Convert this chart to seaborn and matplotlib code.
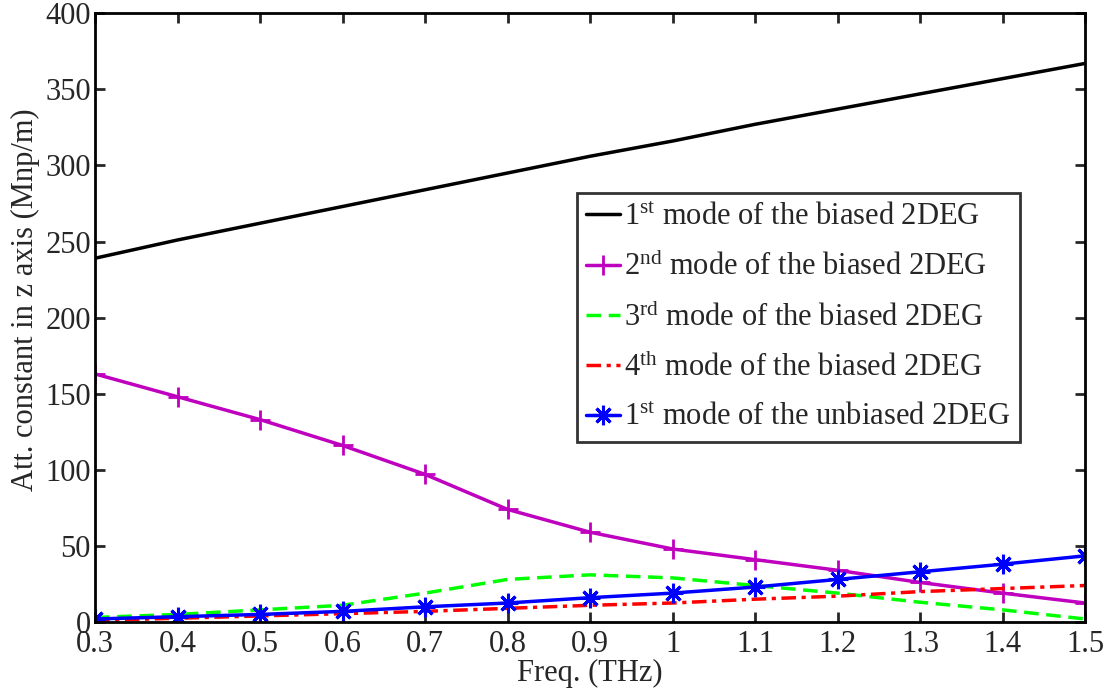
import numpy as np
import pandas as pd
import seaborn as sns
import matplotlib
matplotlib.use("Agg")
import matplotlib.pyplot as plt

freq = [0.3, 0.4, 0.5, 0.6, 0.7, 0.8, 0.9, 1.0, 1.1, 1.2, 1.3, 1.4, 1.5]
mode1_biased = [239, 251, 262, 273, 284, 295, 306, 316, 327, 337, 347, 357, 367]
mode2_biased = [163, 148, 133, 116, 97, 74, 59, 48, 41, 34, 26, 19, 12.5]
mode3_biased = [3, 5, 8, 11, 19, 28, 31, 29, 24, 19, 13, 8, 2]
mode4_biased = [1, 2.5, 4, 5.5, 7, 9, 11, 12.5, 15, 17, 20, 22, 24]
mode1_unbiased = [2, 3.5, 5, 7, 10, 12.5, 16, 19, 23, 28, 33, 38, 43.5]

labels = [
    r"$\mathregular{1^{st}}$ mode of the biased 2DEG",
    r"$\mathregular{2^{nd}}$ mode of the biased 2DEG",
    r"$\mathregular{3^{rd}}$ mode of the biased 2DEG",
    r"$\mathregular{4^{th}}$ mode of the biased 2DEG",
    r"$\mathregular{1^{st}}$ mode of the unbiased 2DEG",
]
xticks = [0.3, 0.4, 0.5, 0.6, 0.7, 0.8, 0.9, 1, 1.1, 1.2, 1.3, 1.4, 1.5]
xticklabels = ["0.3", "0.4", "0.5", "0.6", "0.7", "0.8", "0.9", "1", "1.1", "1.2", "1.3", "1.4", "1.5"]
yticks = [0, 50, 100, 150, 200, 250, 300, 350, 400]

sns.set_theme(style="white")
plt.rcParams["font.family"] = ["Liberation Serif", "DejaVu Serif"]
plt.rcParams["mathtext.fontset"] = "custom"
plt.rcParams["mathtext.rm"] = "Liberation Serif"

fig = plt.figure(figsize=(11.1, 6.94), dpi=100)
ax = fig.add_axes([0.0856, 0.1037, 0.892, 0.8773])

series = [mode1_biased, mode2_biased, mode3_biased, mode4_biased, mode1_unbiased]
styles = [
    dict(color="black", linestyle="-", marker=None),
    dict(color="#bf00bf", linestyle="-", marker="+", markersize=14, markeredgewidth=2,
         markeredgecolor="#bf00bf"),
    dict(color="#00ff00", linestyle=(0, (4.2, 2.2)), marker=None),
    dict(color="#ff0000", linestyle=(0, (4.2, 1.6, 1.2, 1.6)), marker=None),
    dict(color="#0000ff", linestyle="-", marker=(8, 2, 0), markersize=14, markeredgewidth=2.2,
         markeredgecolor="#0000ff", markerfacecolor="#0000ff"),
]
for vals, lab, st in zip(series, labels, styles):
    df = pd.DataFrame({"freq": freq, "val": vals})
    sns.lineplot(data=df, x="freq", y="val", ax=ax, label=lab, linewidth=2.5, **st)

ax.set_xlim(0.3, 1.5)
ax.set_ylim(0, 400)
ax.set_xticks(xticks)
ax.set_xticklabels(xticklabels)
ax.set_yticks(yticks)
ax.tick_params(axis="both", direction="in", length=7, width=2, labelsize=22, top=True,
               right=True, bottom=True, left=True)
ax.tick_params(axis="x", pad=6)
ax.tick_params(axis="y", pad=3)
for sp in ax.spines.values():
    sp.set_linewidth(2)
    sp.set_color("black")
ax.set_xlabel("Freq. (THz)", fontsize=22, labelpad=0)
ax.set_ylabel("Att. constant in z axis (Mnp/m)", fontsize=22)
ax.yaxis.set_label_coords(-0.056, 0.53)

leg = ax.legend(loc="upper right", bbox_to_anchor=(0.934, 0.704), fontsize=22,
                frameon=True, fancybox=False, edgecolor="black", handlelength=1.1,
                handletextpad=0.15, borderpad=0.3, labelspacing=0.66, borderaxespad=0)
leg.get_frame().set_linewidth(2)

fig.savefig("out.png", dpi=100)
